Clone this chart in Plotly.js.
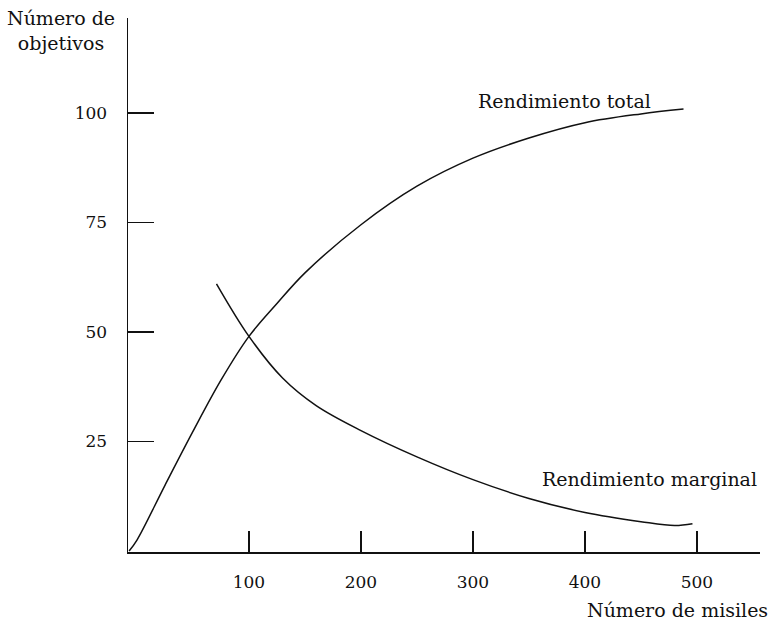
<!DOCTYPE html>
<html>
<head>
<meta charset="utf-8">
<script src="https://cdn.plot.ly/plotly-3.0.1.min.js"></script>
<style>
  html, body { margin: 0; padding: 0; background: #fff; }
  #chart { width: 773px; height: 623px; }
</style>
</head>
<body>
<div id="chart"></div>
<script>
// values (number of missiles vs. number of targets)
const totalMissiles = [-7, 0, 25, 50, 75, 100, 125, 150, 200, 250, 300, 350, 400, 450, 488];
const totalTargets  = [0, 2.5, 15, 27.3, 39, 49, 56.5, 63.5, 74.5, 83.3, 89.7, 94.3, 97.8, 99.8, 100.9];

const marginalMissiles = [71, 100, 130, 160, 200, 250, 300, 350, 400, 450, 480, 496];
const marginalTargets  = [61, 49, 39.5, 33.2, 27.5, 21.5, 16.3, 12, 8.8, 6.7, 5.8, 6.2];

const xTicks = [100, 200, 300, 400, 500];
const yTicks = [25, 50, 75, 100];

const W = 773, H = 623;
const M = { l: 128, r: 13, t: 18, b: 71 };
const plotW = W - M.l - M.r, plotH = H - M.t - M.b;

// pixel position -> paper coords for the text labels
const px = (x) => (x - M.l) / plotW;
const py = (y) => (H - M.b - y) / plotH;

const serif = 'DejaVu Serif, Liberation Serif, serif';
const lineStyle = { color: '#111', width: 1.5, shape: 'spline', smoothing: 1 };

const traces = [
  { x: totalMissiles, y: totalTargets, mode: 'lines', line: lineStyle, hoverinfo: 'skip' },
  { x: marginalMissiles, y: marginalTargets, mode: 'lines', line: lineStyle, hoverinfo: 'skip' }
];

const label = (text, x, y) => ({
  text, xref: 'paper', yref: 'paper', x: px(x), y: py(y),
  xanchor: 'center', yanchor: 'middle', showarrow: false,
  font: { family: serif, size: 19, color: '#111' }
});

const layout = {
  width: W, height: H,
  margin: M,
  paper_bgcolor: '#fff',
  plot_bgcolor: '#fff',
  showlegend: false,
  font: { family: serif, size: 17, color: '#111' },
  xaxis: {
    range: [-8, 556.3],
    tickvals: xTicks,
    ticks: 'inside', ticklen: 21, tickwidth: 1.5, tickcolor: '#111',
    ticklabelstandoff: 14,
    showline: true, linecolor: '#111', linewidth: 1.5,
    showgrid: false, zeroline: false
  },
  yaxis: {
    range: [-0.23, 121.7],
    tickvals: yTicks,
    ticks: 'inside', ticklen: 26, tickwidth: 1.2, tickcolor: '#111',
    ticklabelstandoff: 16,
    showline: true, linecolor: '#111', linewidth: 1.5,
    showgrid: false, zeroline: false
  },
  annotations: [
    label('Rendimiento total', 564, 101),
    label('Rendimiento marginal', 649, 479),
    label('Número de misiles', 677, 610),
    label('Número de<br>objetivos', 61, 30)
  ]
};

Plotly.newPlot('chart', traces, layout, { staticPlot: true });
</script>
</body>
</html>
